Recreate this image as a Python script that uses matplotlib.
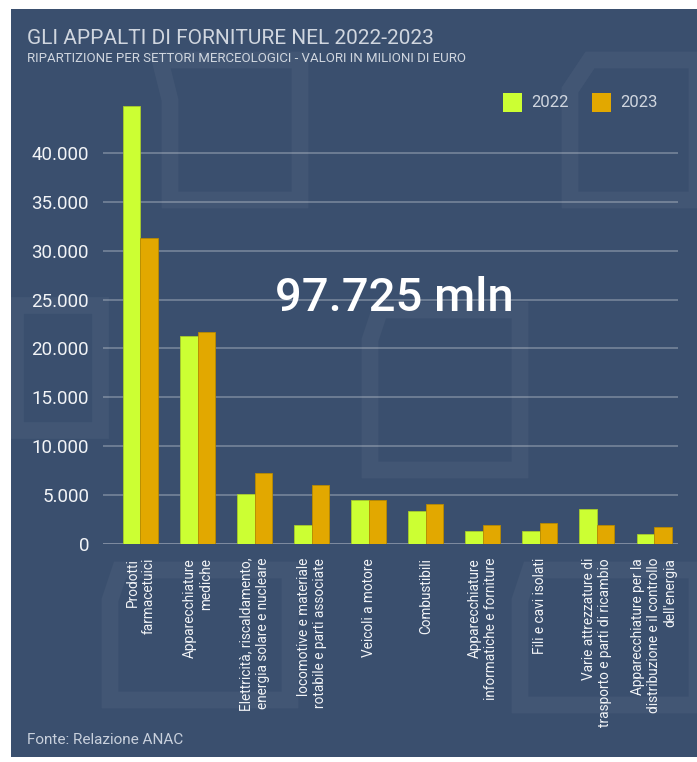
import numpy as np
import matplotlib
matplotlib.use("Agg")
import matplotlib.pyplot as plt
from matplotlib.patches import Rectangle, Polygon

plt.rcParams['font.family'] = ['Roboto', 'DejaVu Sans']

# Data (milioni di euro)
categories = [
    "Prodotti\nfarmacetuici",
    "Apparecchiature\nmediche",
    "Elettricità, riscaldamento,\nenergia solare e nucleare",
    "locomotive e materiale\nrotabile e parti associate",
    "Veicoli a motore",
    "Combustibili",
    "Apparecchiature\ninformatiche e forniture",
    "Fili e cavi isolati",
    "Varie attrezzature di\ntrasporto e parti di ricambio",
    "Apparecchiature per la\ndistribuzione e il controllo\ndell'energia",
]
val_2022 = [44800, 21300, 5100, 1950, 4500, 3400, 1360, 1360, 3580, 1050]
val_2023 = [31260, 21700, 7300, 6060, 4500, 4100, 1900, 2180, 1900, 1740]
yticks = [0, 5000, 10000, 15000, 20000, 25000, 30000, 35000, 40000]

BG = '#3a4f6e'
C22 = '#ccff33'
C23 = '#e2a800'

W, H = 697, 762
fig = plt.figure(figsize=(W / 100, H / 100), dpi=100)
fig.patch.set_facecolor('white')

# background panel
fig.patches.append(Rectangle((11 / W, 1 - 757 / H), 1 - 11 / W, (757 - 9) / H,
                             transform=fig.transFigure, facecolor=BG,
                             edgecolor='none', zorder=-2))

# faint watermark shapes
def px(pts):
    return [(x / W, 1 - y / H) for x, y in pts]

wm = dict(transform=fig.transFigure, closed=True, fill=False,
          edgecolor=(1, 1, 1, 0.045), linewidth=12, zorder=-1)
for shape in [
    [(160, 60), (300, 60), (300, 200), (170, 200), (170, 100)],
    [(590, 60), (697, 60), (697, 200), (570, 200), (570, 90)],
    [(380, 310), (520, 310), (520, 470), (370, 470), (370, 340)],
    [(15, 305), (100, 305), (100, 430), (15, 430)],
    [(120, 570), (290, 570), (290, 700), (110, 700), (110, 600)],
    [(530, 570), (697, 570), (697, 705), (520, 705), (520, 600)],
]:
    fig.patches.append(Polygon(px(shape), **wm))

ax = fig.add_axes([103 / W, 1 - 544 / H, (678 - 103) / W, (544 - 104) / H])
ax.set_facecolor('none')
ax.set_zorder(1)

x = np.arange(len(categories))
bw = 0.307
ax.bar(x - bw / 2, val_2022, bw, color=C22, edgecolor='#a9cc2a', linewidth=0.6,
       label='2022', zorder=3)
ax.bar(x + bw / 2, val_2023, bw, color=C23, edgecolor='#b88a00', linewidth=0.6,
       label='2023', zorder=3)

ax.set_xlim(-0.657, 9.42)
ax.set_ylim(0, 45000)
ax.set_yticks(yticks)
ax.set_yticklabels([f"{v:,}".replace(",", ".") for v in yticks],
                   color='#f2f4f7', fontsize=13.5)
ax.tick_params(axis='y', length=0, pad=10)
for v in yticks:
    ax.axhline(v, color=(1, 1, 1, 0.45 if v == 0 else 0.3),
               linewidth=1.8 if v == 0 else 1.2, zorder=1)

ax.set_xticks(x)
ax.set_xticklabels(categories, rotation=90, ha='center', va='top',
                   multialignment='right', color='#f2f4f7', fontsize=9.8)
ax.tick_params(axis='x', length=0, pad=10)
for s in ax.spines.values():
    s.set_visible(False)

# titles
fig.text(27 / W, 1 - 39 / H, "GLI APPALTI DI FORNITURE NEL 2022-2023",
         fontsize=15, color='#d0d6df', va='center', ha='left')
fig.text(27 / W, 1 - 59 / H,
         "RIPARTIZIONE PER SETTORI MERCEOLOGICI - VALORI IN MILIONI DI EURO",
         fontsize=9.5, color='#d0d6df', va='center', ha='left')

# legend
for xs, lab, col in [(503, '2022', C22), (592, '2023', C23)]:
    fig.patches.append(Rectangle((xs / W, 1 - 112 / H), 19 / W, 19 / H,
                                 transform=fig.transFigure, facecolor=col,
                                 edgecolor='none', zorder=2))
    fig.text((xs + 28) / W, 1 - 102.5 / H, lab, fontsize=12,
             color='#d0d6df', va='center', ha='left')

fig.text(394 / W, 1 - 298 / H, "97.725 mln", fontsize=34, fontweight='medium',
         color='white', ha='center', va='center', zorder=5)

fig.text(27 / W, 1 - 740 / H, "Fonte: Relazione ANAC", fontsize=11,
         color='#c8d0dc', va='center', ha='left')

fig.savefig('out.png', dpi=100, facecolor=fig.get_facecolor())
